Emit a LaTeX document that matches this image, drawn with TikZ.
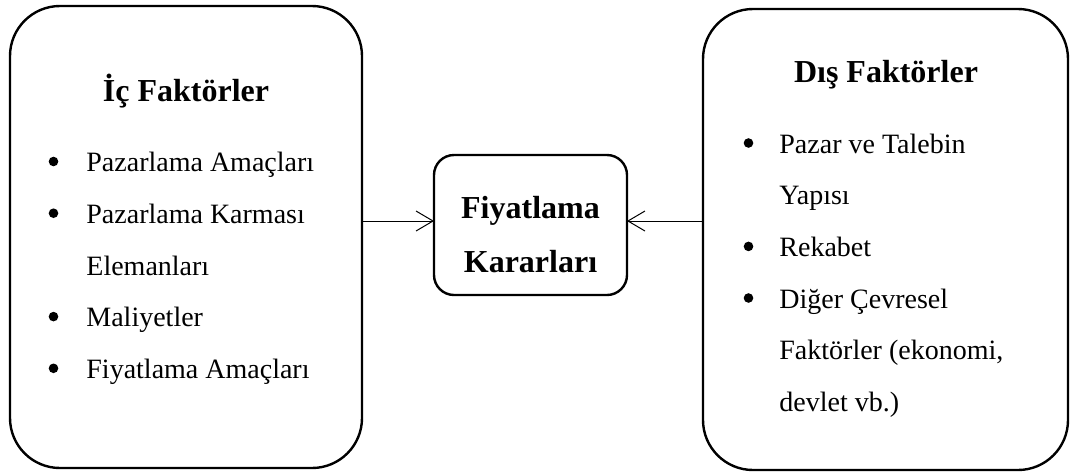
\documentclass[tikz,border=0pt]{standalone}
\usepackage{fontspec}
\setmainfont{Liberation Serif}
\usetikzlibrary{arrows.meta}

\begin{document}
\begin{tikzpicture}[x=0.5pt, y=-0.5pt,
  panel/.style={draw, line width=1.2pt, rounded corners=25pt},
  centerbox/.style={draw, line width=1.2pt, rounded corners=10pt},
  heading/.style={font=\fontsize{16}{19}\selectfont\bfseries, inner sep=0pt, anchor=base},
  item/.style={font=\fontsize{14}{17}\selectfont, inner sep=0pt, anchor=base west},
  dot/.style={circle, fill, inner sep=0pt, minimum size=4.8pt},
  link/.style={line width=0.5pt, -{Straight Barb[length=8.5pt, width=10pt, line width=0.5pt]}}]

\useasboundingbox (0,0) rectangle (1070,472);

% three frames
\draw[panel] (10,6) rectangle (362,468);
\draw[panel] (703,9) rectangle (1068,470);
\draw[centerbox] (434,155) rectangle (627,295);

\coordinate (leftedge) at (362,221);
\coordinate (rightedge) at (703,221);
\coordinate (midwest) at (434,221);
\coordinate (mideast) at (627,221);

% internal factors
\node[heading] (ictitle) at (186,101) {İç Faktörler};
\node[dot] (b1) at (53.5,161.5) {};
\node[item] (i1) at (86,171.7) {Pazarlama Amaçları};
\node[dot] (b2) at (53.5,213.2) {};
\node[item] (i2) at (86,223.4) {Pazarlama Karması};
\node[item] (i2b) at (86,275) {Elemanları};
\node[dot] (b3) at (53.5,316.6) {};
\node[item] (i3) at (86,326.8) {Maliyetler};
\node[dot] (b4) at (53.5,368.3) {};
\node[item] (i4) at (86,378.5) {Fiyatlama Amaçları};

% external factors
\node[heading] (distitle) at (886,82.5) {Dış Faktörler};
\node[dot] (d1) at (748.5,143) {};
\node[item] (e1) at (779,153) {Pazar ve Talebin};
\node[item] (e1b) at (779,204.7) {Yapısı};
\node[dot] (d2) at (748.5,246.4) {};
\node[item] (e2) at (779,256.4) {Rekabet};
\node[dot] (d3) at (748.5,298) {};
\node[item] (e3) at (779,308) {Diğer Çevresel};
\node[item] (e3b) at (779,359.8) {Faktörler (ekonomi,};
\node[item] (e3c) at (779,411.5) {devlet vb.)};

% decision box
\node[heading] (m1) at (530.5,218.3) {Fiyatlama};
\node[heading] (m2) at (530.5,272.7) {Kararları};

% connectors
\draw[link] (leftedge) -- (midwest);
\draw[link] (rightedge) -- (mideast);
\end{tikzpicture}
\end{document}
